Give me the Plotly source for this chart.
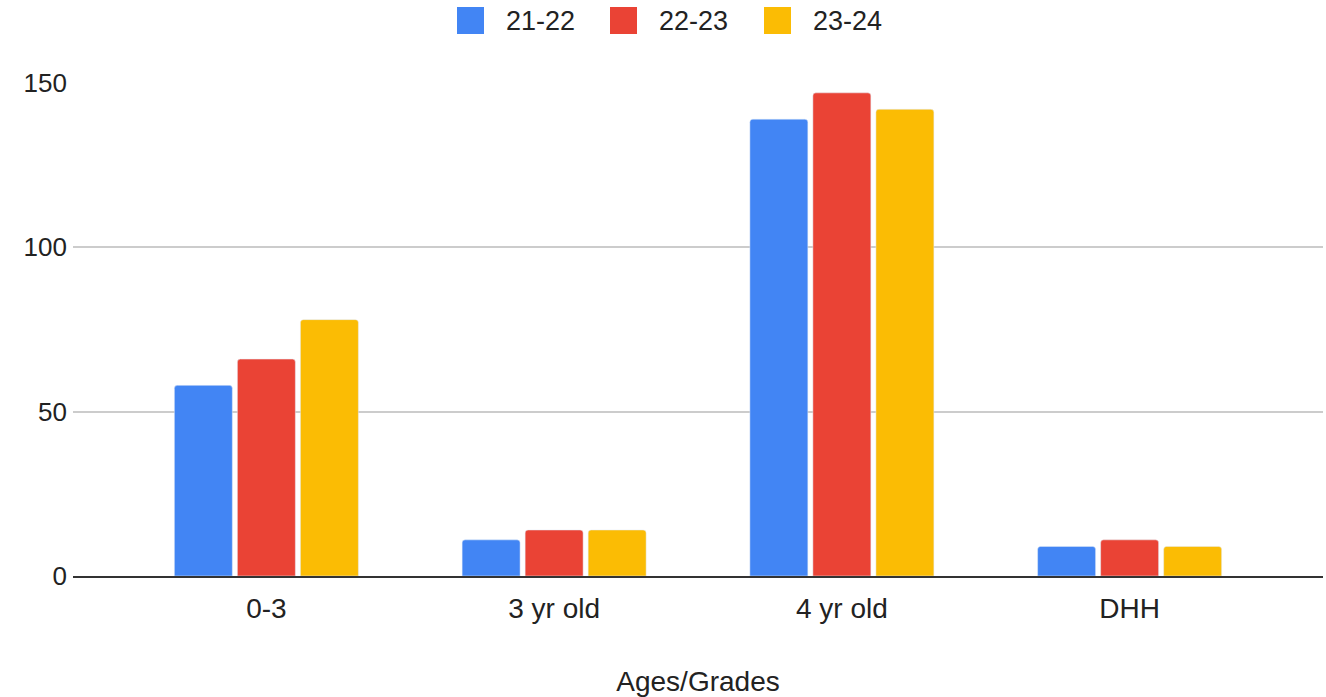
import plotly.graph_objects as go

categories = ["0-3", "3 yr old", "4 yr old", "DHH"]
series_names = ["21-22", "22-23", "23-24"]
values_21_22 = [58, 11, 139, 9]
values_22_23 = [66, 14, 147, 11]
values_23_24 = [78, 14, 142, 9]
colors = ["#4285F4", "#EA4335", "#FBBC04"]
y_ticks = [0, 50, 100, 150]

FONT = "Liberation Sans, Arial, sans-serif"
W, H = 1326, 697
ML, MR, MT, MB = 73, 3, 83, 121

fig = go.Figure()
for name, vals, col in zip(series_names, [values_21_22, values_22_23, values_23_24], colors):
    fig.add_trace(go.Bar(x=categories, y=vals, name=name, marker_color=col,
                         showlegend=False))

# Custom legend (large square swatches like the reference)
def px_to_paper_x(px):
    return (px - ML) / (W - ML - MR)

def px_to_paper_y(py):
    return (H - MB - py) / (H - MT - MB)

legend_box_left = [457, 610, 764]
box_size = 27
box_top = 7
for name, col, bx in zip(series_names, colors, legend_box_left):
    fig.add_shape(type="rect", xref="paper", yref="paper",
                  x0=px_to_paper_x(bx), x1=px_to_paper_x(bx + box_size),
                  y0=px_to_paper_y(box_top + box_size), y1=px_to_paper_y(box_top),
                  fillcolor=col, line=dict(width=0), layer="above")
    fig.add_annotation(xref="paper", yref="paper",
                       x=px_to_paper_x(bx + box_size + 20), y=px_to_paper_y(box_top + box_size / 2),
                       xanchor="left", yanchor="middle", showarrow=False,
                       text=name, font=dict(size=27, color="#222222"))

fig.update_layout(
    width=W, height=H,
    margin=dict(l=ML, r=MR, t=MT, b=MB, autoexpand=False),
    paper_bgcolor="white", plot_bgcolor="white",
    barmode="group", bargap=0.343, bargroupgap=0.08,
    barcornerradius=3,
    showlegend=False,
    font=dict(family=FONT, size=26, color="#222222"),
    xaxis=dict(range=[-0.672, 3.672], showgrid=False, zeroline=False,
               showline=True, linecolor="#333333", linewidth=2,
               tickfont=dict(size=28), ticks="outside", ticklen=6,
               tickcolor="rgba(0,0,0,0)", automargin=False,
               title=dict(text="Ages/Grades", font=dict(size=28), standoff=58)),
    yaxis=dict(range=[0, 150], tickvals=y_ticks, showgrid=True,
               gridcolor="#cccccc", gridwidth=1.5, zeroline=False,
               tickfont=dict(size=26), ticks="", ticklen=0, ticklabelstandoff=5,
               showline=False, automargin=False),
)

fig.write_html("out.html", config={"displayModeBar": False},
               post_script="document.body.style.margin='0';")
